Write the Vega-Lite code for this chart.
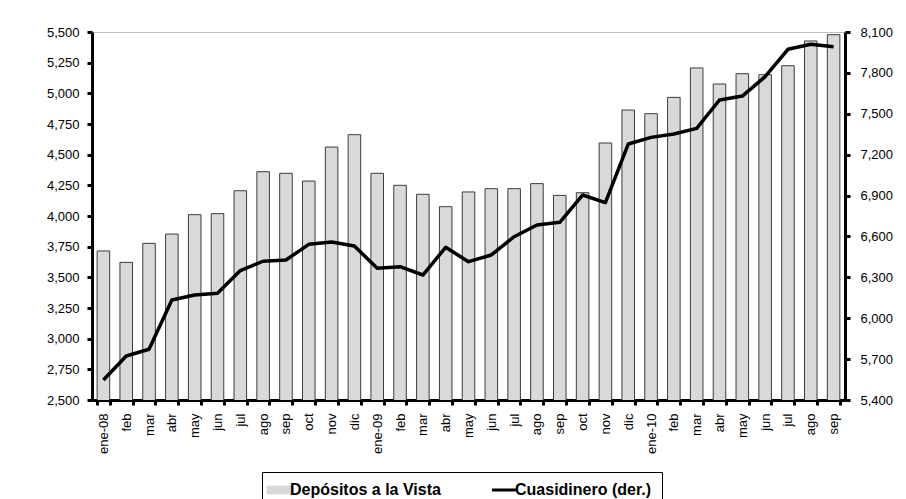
{
  "$schema": "https://vega.github.io/schema/vega-lite/v6.json",
  "width": 753,
  "height": 368,
  "autosize": {"type": "none"},
  "padding": {"left": 92, "top": 32, "right": 61, "bottom": 99},
  "background": "white",
  "config": {
    "font": "Liberation Sans",
    "view": {"stroke": "#c0c0c0", "strokeWidth": 1},
    "axis": {
      "domainColor": "black",
      "domainWidth": 3,
      "tickColor": "black",
      "tickWidth": 3,
      "tickSize": 5,
      "labelFont": "Liberation Sans",
      "labelFontSize": 13,
      "labelColor": "black",
      "grid": false,
      "title": null
    }
  },
  "datasets": {
    "dep": [
      {"fecha": "2008-01", "valor": 3715, "serie": "Depósitos a la Vista"},
      {"fecha": "2008-02", "valor": 3622, "serie": "Depósitos a la Vista"},
      {"fecha": "2008-03", "valor": 3777, "serie": "Depósitos a la Vista"},
      {"fecha": "2008-04", "valor": 3853, "serie": "Depósitos a la Vista"},
      {"fecha": "2008-05", "valor": 4011, "serie": "Depósitos a la Vista"},
      {"fecha": "2008-06", "valor": 4019, "serie": "Depósitos a la Vista"},
      {"fecha": "2008-07", "valor": 4206, "serie": "Depósitos a la Vista"},
      {"fecha": "2008-08", "valor": 4361, "serie": "Depósitos a la Vista"},
      {"fecha": "2008-09", "valor": 4348, "serie": "Depósitos a la Vista"},
      {"fecha": "2008-10", "valor": 4285, "serie": "Depósitos a la Vista"},
      {"fecha": "2008-11", "valor": 4562, "serie": "Depósitos a la Vista"},
      {"fecha": "2008-12", "valor": 4663, "serie": "Depósitos a la Vista"},
      {"fecha": "2009-01", "valor": 4348, "serie": "Depósitos a la Vista"},
      {"fecha": "2009-02", "valor": 4250, "serie": "Depósitos a la Vista"},
      {"fecha": "2009-03", "valor": 4177, "serie": "Depósitos a la Vista"},
      {"fecha": "2009-04", "valor": 4076, "serie": "Depósitos a la Vista"},
      {"fecha": "2009-05", "valor": 4196, "serie": "Depósitos a la Vista"},
      {"fecha": "2009-06", "valor": 4223, "serie": "Depósitos a la Vista"},
      {"fecha": "2009-07", "valor": 4223, "serie": "Depósitos a la Vista"},
      {"fecha": "2009-08", "valor": 4264, "serie": "Depósitos a la Vista"},
      {"fecha": "2009-09", "valor": 4168, "serie": "Depósitos a la Vista"},
      {"fecha": "2009-10", "valor": 4190, "serie": "Depósitos a la Vista"},
      {"fecha": "2009-11", "valor": 4595, "serie": "Depósitos a la Vista"},
      {"fecha": "2009-12", "valor": 4864, "serie": "Depósitos a la Vista"},
      {"fecha": "2010-01", "valor": 4834, "serie": "Depósitos a la Vista"},
      {"fecha": "2010-02", "valor": 4967, "serie": "Depósitos a la Vista"},
      {"fecha": "2010-03", "valor": 5207, "serie": "Depósitos a la Vista"},
      {"fecha": "2010-04", "valor": 5076, "serie": "Depósitos a la Vista"},
      {"fecha": "2010-05", "valor": 5160, "serie": "Depósitos a la Vista"},
      {"fecha": "2010-06", "valor": 5152, "serie": "Depósitos a la Vista"},
      {"fecha": "2010-07", "valor": 5225, "serie": "Depósitos a la Vista"},
      {"fecha": "2010-08", "valor": 5427, "serie": "Depósitos a la Vista"},
      {"fecha": "2010-09", "valor": 5478, "serie": "Depósitos a la Vista"}
    ],
    "cuasi": [
      {"fecha": "2008-01", "valor": 5547, "serie": "Cuasidinero (der.)"},
      {"fecha": "2008-02", "valor": 5723, "serie": "Cuasidinero (der.)"},
      {"fecha": "2008-03", "valor": 5772, "serie": "Cuasidinero (der.)"},
      {"fecha": "2008-04", "valor": 6134, "serie": "Cuasidinero (der.)"},
      {"fecha": "2008-05", "valor": 6170, "serie": "Cuasidinero (der.)"},
      {"fecha": "2008-06", "valor": 6183, "serie": "Cuasidinero (der.)"},
      {"fecha": "2008-07", "valor": 6350, "serie": "Cuasidinero (der.)"},
      {"fecha": "2008-08", "valor": 6418, "serie": "Cuasidinero (der.)"},
      {"fecha": "2008-09", "valor": 6427, "serie": "Cuasidinero (der.)"},
      {"fecha": "2008-10", "valor": 6542, "serie": "Cuasidinero (der.)"},
      {"fecha": "2008-11", "valor": 6559, "serie": "Cuasidinero (der.)"},
      {"fecha": "2008-12", "valor": 6530, "serie": "Cuasidinero (der.)"},
      {"fecha": "2009-01", "valor": 6366, "serie": "Cuasidinero (der.)"},
      {"fecha": "2009-02", "valor": 6378, "serie": "Cuasidinero (der.)"},
      {"fecha": "2009-03", "valor": 6317, "serie": "Cuasidinero (der.)"},
      {"fecha": "2009-04", "valor": 6520, "serie": "Cuasidinero (der.)"},
      {"fecha": "2009-05", "valor": 6415, "serie": "Cuasidinero (der.)"},
      {"fecha": "2009-06", "valor": 6464, "serie": "Cuasidinero (der.)"},
      {"fecha": "2009-07", "valor": 6598, "serie": "Cuasidinero (der.)"},
      {"fecha": "2009-08", "valor": 6684, "serie": "Cuasidinero (der.)"},
      {"fecha": "2009-09", "valor": 6704, "serie": "Cuasidinero (der.)"},
      {"fecha": "2009-10", "valor": 6904, "serie": "Cuasidinero (der.)"},
      {"fecha": "2009-11", "valor": 6848, "serie": "Cuasidinero (der.)"},
      {"fecha": "2009-12", "valor": 7278, "serie": "Cuasidinero (der.)"},
      {"fecha": "2010-01", "valor": 7327, "serie": "Cuasidinero (der.)"},
      {"fecha": "2010-02", "valor": 7352, "serie": "Cuasidinero (der.)"},
      {"fecha": "2010-03", "valor": 7393, "serie": "Cuasidinero (der.)"},
      {"fecha": "2010-04", "valor": 7601, "serie": "Cuasidinero (der.)"},
      {"fecha": "2010-05", "valor": 7630, "serie": "Cuasidinero (der.)"},
      {"fecha": "2010-06", "valor": 7772, "serie": "Cuasidinero (der.)"},
      {"fecha": "2010-07", "valor": 7973, "serie": "Cuasidinero (der.)"},
      {"fecha": "2010-08", "valor": 8010, "serie": "Cuasidinero (der.)"},
      {"fecha": "2010-09", "valor": 7992, "serie": "Cuasidinero (der.)"}
    ]
  },
  "encoding": {
    "x": {
      "field": "fecha",
      "type": "ordinal",
      "scale": {"paddingInner": 0.45, "paddingOuter": 0.225},
      "axis": {
        "labelAngle": -90,
        "labelPadding": 8,
        "tickBand": "extent",
        "labelExpr": "!isString(datum.value) ? '' : (slice(datum.value,5)=='01' ? 'ene-' + slice(datum.value,2,4) : ['ene','feb','mar','abr','may','jun','jul','ago','sep','oct','nov','dic'][toNumber(slice(datum.value,5))-1])"
      }
    },
    "color": {
      "field": "serie",
      "type": "nominal",
      "scale": {"domain": ["Depósitos a la Vista", "Cuasidinero (der.)"], "range": ["#d9d9d9", "#000000"]},
      "legend": {
        "orient": "none",
        "legendX": 170,
        "legendY": 440,
        "direction": "horizontal",
        "title": null,
        "strokeColor": "black",
        "fillColor": "white",
        "padding": 10,
        "labelFont": "Liberation Sans",
        "labelFontWeight": "bold",
        "labelFontSize": 16,
        "labelLimit": 400,
        "labelColor": "black",
        "labelOffset": 2,
        "columnPadding": 45,
        "symbolSize": 676,
        "encode": {
          "symbols": {
            "update": {
              "shape": {"signal": "datum.value === 'Cuasidinero (der.)' ? 'stroke' : 'M-1,-0.3H1V0.3H-1Z'"},
              "strokeWidth": {"signal": "datum.value === 'Cuasidinero (der.)' ? 3 : 1"},
              "stroke": {"signal": "datum.value === 'Cuasidinero (der.)' ? '#000000' : '#404040'"},
              "fill": {"signal": "datum.value === 'Cuasidinero (der.)' ? 'transparent' : '#d9d9d9'"},
              "size": {"value": 676},
              "opacity": {"value": 1}
            }
          }
        }
      }
    }
  },
  "layer": [
    {
      "data": {"name": "dep"},
      "mark": {"type": "bar", "stroke": "#3c3c3c", "strokeWidth": 1, "clip": true},
      "encoding": {
        "y": {
          "field": "valor",
          "type": "quantitative",
          "scale": {"domain": [2500, 5500], "nice": false, "zero": false},
          "axis": {
            "orient": "left",
            "values": [2500, 2750, 3000, 3250, 3500, 3750, 4000, 4250, 4500, 4750, 5000, 5250, 5500],
            "format": ",.0f",
            "labelPadding": 8
          }
        }
      }
    },
    {
      "data": {"name": "cuasi"},
      "mark": {"type": "line", "strokeWidth": 3.5, "strokeJoin": "round"},
      "encoding": {
        "y": {
          "field": "valor",
          "type": "quantitative",
          "scale": {"domain": [5400, 8100], "nice": false, "zero": false},
          "axis": {
            "orient": "right",
            "values": [5400, 5700, 6000, 6300, 6600, 6900, 7200, 7500, 7800, 8100],
            "format": ",.0f",
            "labelPadding": 10
          }
        }
      }
    }
  ],
  "resolve": {"scale": {"y": "independent"}}
}
